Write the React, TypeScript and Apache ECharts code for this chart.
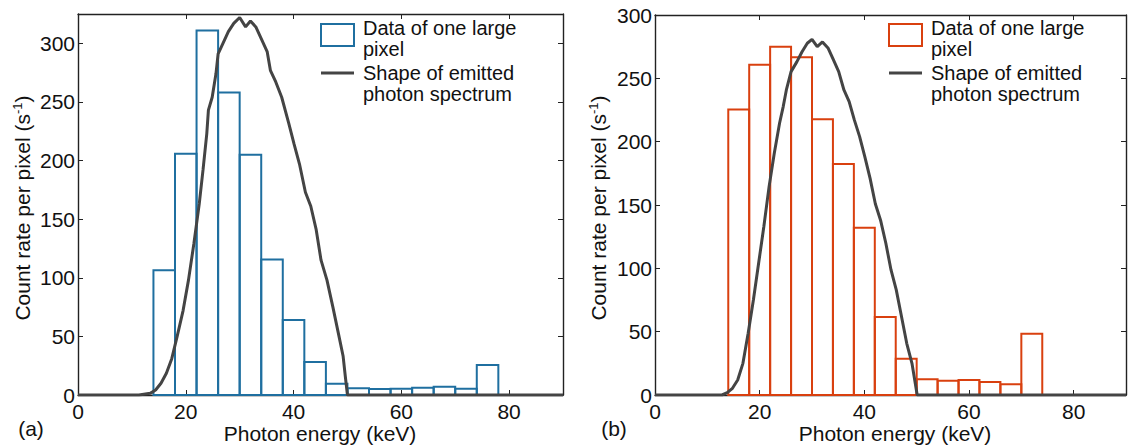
import React, { useEffect, useRef } from "react";
import * as echarts from "echarts";

// Histogram bins (start energy, keV), bin width 4 keV
const binsA = [14, 18, 22, 26, 30, 34, 38, 42, 46, 50, 54, 58, 62, 66, 70, 74];
const countsA = [106.5, 205.7, 311, 258, 205, 115.6, 64, 28.1, 9.6, 5.7, 5.1, 5.4, 6.2, 7, 5.4, 25.6];
const binsB = [14, 18, 22, 26, 30, 34, 38, 42, 46, 50, 54, 58, 62, 66, 70];
const countsB = [225.3, 260.8, 275, 266.6, 217.7, 182.4, 132.1, 61.6, 28.7, 12.4, 11.3, 11.8, 10.3, 8.4, 48.4];
const BIN_W = 4;

// Emitted spectrum shape (panel a)
const energyA = [0, 11.3, 13.4, 14.4, 15.4, 16.4, 17.4, 18.4, 19.5, 20.5, 21.5, 22.5, 23.2, 23.9, 24.2, 24.9, 25.6, 26.0, 26.9, 27.9, 28.9, 30.0, 31.1, 32.0, 33.0, 34.0, 35.1, 35.7, 36.7, 37.8, 39.1, 40.1, 41.1, 42.2, 43.2, 44.2, 45.1, 46.2, 47.3, 48.3, 49.2, 49.6, 50.0, 90];
const spectrumA = [0, 0, 1.4, 4.3, 10, 18.5, 31, 50, 72, 98, 129, 163, 192, 223, 243, 254, 274, 291, 300, 310, 317, 322, 314, 319, 314, 304, 293, 277, 267, 254, 232, 214, 197, 173, 161, 141, 115, 98, 75, 53, 33, 16, 0, 0];
// Emitted spectrum shape (panel b)
const energyB = [0, 12.8, 13.8, 14.8, 15.8, 16.8, 17.8, 18.8, 19.8, 20.8, 21.8, 22.8, 23.8, 24.5, 25.1, 26.0, 27.1, 28.1, 29.1, 30.0, 31.0, 32.0, 33.1, 34.1, 35.1, 36.1, 37.1, 38.1, 39.1, 40.1, 41.1, 42.1, 43.1, 44.1, 45.1, 46.1, 47.1, 48.1, 49.1, 50.1, 90];
const spectrumB = [0, 0, 1.8, 5.3, 11.8, 25, 48.7, 75, 104, 133, 164.5, 191, 214.5, 227.7, 240.8, 255.3, 263, 271, 277.7, 280.8, 275, 278.7, 273.7, 264.5, 255.3, 240.8, 231.6, 217, 204, 188, 171, 151, 138, 120, 98.7, 83, 62, 40.8, 25, 0, 0];

const xTicks = [0, 20, 40, 60, 80];
const yTicks = [0, 50, 100, 150, 200, 250, 300];
const legendHist = "Data of one large\npixel";
const legendCurve = "Shape of emitted\nphoton spectrum";

const FONT = "Liberation Sans, Arial, Helvetica, sans-serif";
const FS = 21;
const LEG_FS = 20;
const AXIS_COLOR = "#222";
const BLUE = "#1f6fa0";
const RED = "#d9400f";
const CURVE = "#444";

export default function App() {
  const ref = useRef<HTMLDivElement>(null);
  useEffect(() => {
    if (!ref.current) return;
    const chart = echarts.init(ref.current, null, { renderer: "svg" });

    const xFmt = (v: number) => (xTicks.includes(v) ? String(v) : "");
    const yFmt = (v: number) => (yTicks.includes(v) ? String(v) : "");

    const mkX = (gi: number, pos: "bottom" | "top") => ({
      gridIndex: gi,
      type: "value",
      min: 0,
      max: 90,
      interval: 20,
      position: pos,
      axisLine: { show: true, onZero: false, lineStyle: { color: AXIS_COLOR, width: 1.4 } },
      axisTick: { show: true, inside: true, length: 5, lineStyle: { color: AXIS_COLOR, width: 1 } },
      axisLabel: {
        show: pos === "bottom",
        formatter: xFmt,
        fontSize: FS,
        fontFamily: FONT,
        color: "#111",
        margin: 6,
      },
      splitLine: { show: false },
    });
    const mkY = (gi: number, pos: "left" | "right", max: number) => ({
      gridIndex: gi,
      type: "value",
      min: 0,
      max,
      interval: 50,
      position: pos,
      axisLine: { show: true, onZero: false, lineStyle: { color: AXIS_COLOR, width: 1.4 } },
      axisTick: { show: true, inside: true, length: 5, lineStyle: { color: AXIS_COLOR, width: 1 } },
      axisLabel: {
        show: pos === "left",
        formatter: yFmt,
        fontSize: FS,
        fontFamily: FONT,
        color: "#111",
        margin: 3,
      },
      splitLine: { show: false },
    });

    const histRender = (color: string) => (params: any, api: any) => {
      const x0 = api.value(0);
      const y = api.value(1);
      const p0 = api.coord([x0, y]);
      const p1 = api.coord([x0 + BIN_W, 0]);
      return {
        type: "rect",
        shape: { x: p0[0], y: p0[1], width: p1[0] - p0[0], height: p1[1] - p0[1] },
        style: { fill: "none", stroke: color, lineWidth: 2 },
      };
    };

    const legend = (x0: number, color: string) => [
      { type: "rect", shape: { x: x0, y: 24, width: 33, height: 22 }, style: { fill: "none", stroke: color, lineWidth: 2 } },
      { type: "text", x: x0 + 42, y: 17.5, style: { text: legendHist, fontSize: LEG_FS, lineHeight: 21, fontFamily: FONT, fill: "#111", textVerticalAlign: "top" } },
      { type: "line", shape: { x1: x0, y1: 73, x2: x0 + 33, y2: 73 }, style: { stroke: CURVE, lineWidth: 3 } },
      { type: "text", x: x0 + 42, y: 62.5, style: { text: legendCurve, fontSize: LEG_FS, lineHeight: 21, fontFamily: FONT, fill: "#111", textVerticalAlign: "top" } },
    ];

    const yTitle = (x: number) => ({
      type: "text",
      x,
      y: 208,
      rotation: Math.PI / 2,
      style: {
        text: "{a|Count rate per pixel (s}{s|-1}{a|)}",
        textAlign: "center",
        textVerticalAlign: "middle",
        rich: {
          a: { fontSize: 21, fontFamily: FONT, fill: "#111" },
          s: { fontSize: 13, fontFamily: FONT, fill: "#111", padding: [0, 0, 9, 0] },
        },
      },
    });

    const option: any = {
      animation: false,
      backgroundColor: "#fff",
      grid: [
        { left: 78, top: 14, width: 485, height: 381 },
        { left: 655, top: 15, width: 480, height: 380 },
      ],
      xAxis: [mkX(0, "bottom"), mkX(0, "top"), mkX(1, "bottom"), mkX(1, "top")],
      yAxis: [mkY(0, "left", 325), mkY(0, "right", 325), mkY(1, "left", 300), mkY(1, "right", 300)],
      series: [
        {
          type: "custom",
          xAxisIndex: 0,
          yAxisIndex: 0,
          renderItem: histRender(BLUE),
          encode: { x: 0, y: 1 },
          data: binsA.map((b, i) => [b, countsA[i]]),
          z: 2,
        },
        {
          type: "line",
          xAxisIndex: 0,
          yAxisIndex: 0,
          data: energyA.map((e, i) => [e, spectrumA[i]]),
          showSymbol: false,
          lineStyle: { color: CURVE, width: 3 },
          z: 3,
        },
        {
          type: "custom",
          xAxisIndex: 2,
          yAxisIndex: 2,
          renderItem: histRender(RED),
          encode: { x: 0, y: 1 },
          data: binsB.map((b, i) => [b, countsB[i]]),
          z: 2,
        },
        {
          type: "line",
          xAxisIndex: 2,
          yAxisIndex: 2,
          data: energyB.map((e, i) => [e, spectrumB[i]]),
          showSymbol: false,
          lineStyle: { color: CURVE, width: 3 },
          z: 3,
        },
      ],
      graphic: [
        ...legend(321, BLUE),
        ...legend(889, RED),
        yTitle(22),
        yTitle(598),
        { type: "text", x: 320, y: 433, style: { text: "Photon energy (keV)", fontSize: 21, fontFamily: FONT, fill: "#111", textAlign: "center", textVerticalAlign: "middle" } },
        { type: "text", x: 895, y: 433, style: { text: "Photon energy (keV)", fontSize: 21, fontFamily: FONT, fill: "#111", textAlign: "center", textVerticalAlign: "middle" } },
        { type: "text", x: 31, y: 428, style: { text: "(a)", fontSize: 21, fontFamily: FONT, fill: "#111", textAlign: "center", textVerticalAlign: "middle" } },
        { type: "text", x: 614, y: 428, style: { text: "(b)", fontSize: 21, fontFamily: FONT, fill: "#111", textAlign: "center", textVerticalAlign: "middle" } },
      ],
    };
    chart.setOption(option);
    return () => chart.dispose();
  }, []);
  return (
    <div
      ref={ref}
      style={{ position: "fixed", left: 0, top: 0, width: 1129, height: 446, background: "#fff" }}
    />
  );
}
